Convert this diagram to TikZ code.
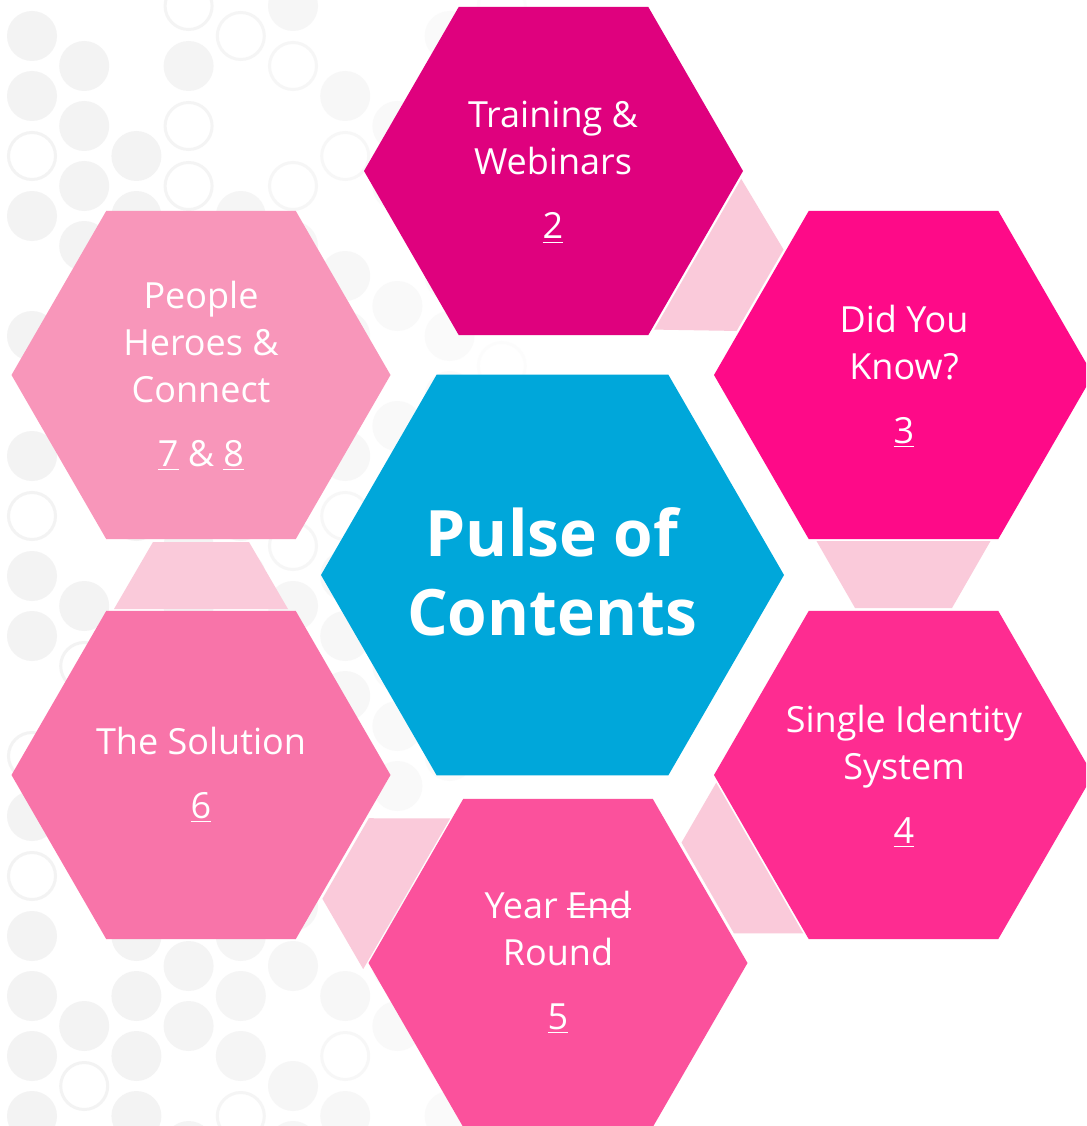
\documentclass[tikz,border=0pt]{standalone}
\usepackage{fontspec}
\setmainfont{Open Sans}[Ligatures=NoCommon]
\usetikzlibrary{shapes.geometric,calc}
\definecolor{cblue}{HTML}{00A7DA}
\definecolor{ctrain}{HTML}{DF017E}
\definecolor{cdyk}{HTML}{FE0A88}
\definecolor{csis}{HTML}{FE2C91}
\definecolor{cyer}{HTML}{FB519C}
\definecolor{csol}{HTML}{F874A9}
\definecolor{cppl}{HTML}{F896BA}
\definecolor{clink}{HTML}{FACADA}
\definecolor{bgc}{HTML}{F3F3F3}
\newcommand\uln[1]{{\setbox0\hbox{#1}\rlap{\rule[-4pt]{\wd0}{1.4pt}}\box0}}
\newcommand\strk[1]{{\setbox0\hbox{#1}\rlap{\rule[8.5pt]{\wd0}{1.4pt}}\box0}}
\newcommand\hexlabel[1]{\begin{tabular}[t]{@{}c@{}}#1\end{tabular}}
% #1 reference hex, #2 direction, #3 distance of wide side, #4 distance of narrow side, #5 narrow half width
\newcommand\hexlink[5]{\fill[link] ($(#1.center)+(#2:#3)+(#2+90:87)$) -- ($(#1.center)+(#2:#4)+(#2+90:#5)$) -- ($(#1.center)+(#2:#4)+(#2-90:#5)$) -- ($(#1.center)+(#2:#3)+(#2-90:87)$) -- cycle;}
\begin{document}
\begin{tikzpicture}[x=1pt,y=-1pt,
  hex/.style={regular polygon, regular polygon sides=6, minimum size=379pt, inner sep=0pt, outer sep=0pt, draw=none},
  lbl/.style={text=white, inner sep=0pt, anchor=base, font=\fontsize{36}{47}\selectfont},
  link/.style={fill=clink}]
\useasboundingbox (0,0) rectangle (1086,1126);
\clip (0,0) rectangle (1086,1126);
\fill[white] (0,0) rectangle (1086,1126);
% background dots
\pgfmathsetseed{11}
\foreach \k in {0,...,9}{
  \foreach \j in {0,...,19}{
    \pgfmathsetmacro\cx{32+52.2*\k}
    \pgfmathsetmacro\cy{36+60*\j-30*mod(\k,2)}
    \pgfmathsetmacro\op{max(0,1-(\cx/560)^2)}
    \pgfmathsetmacro\rr{rnd}
    \ifdim\rr pt<0.22pt\relax\else
      \ifdim\rr pt<0.38pt
        \draw[bgc, line width=3pt, opacity=\op] (\cx,\cy) circle (23.5pt);
      \else
        \fill[bgc, opacity=\op] (\cx,\cy) circle (25pt);
      \fi
    \fi
  }
}
% hexagons
\node[hex, fill=cblue, minimum size=463pt] (hub) at (552.5,575) {};
\node[hex, fill=ctrain] (train) at (553.5,171) {};
\node[hex, fill=cdyk] (dyk) at (903.5,375) {};
\node[hex, fill=csis] (sis) at (903.5,775) {};
\node[hex, fill=cyer] (yer) at (558,963) {};
\node[hex, fill=csol] (sol) at (201,775) {};
\node[hex, fill=cppl] (ppl) at (201,375) {};
% links
\hexlink{train}{30}{166.5}{238.5}{47}
\hexlink{dyk}{90}{166}{233}{48.5}
\hexlink{sis}{150}{166}{226}{52.5}
\hexlink{sol}{30}{237.5}{167}{46.5}
\hexlink{sol}{270}{166}{233}{48}
% labels
\node[lbl] (ttrain) at (553,128) {\hexlabel{Training \&\\Webinars\\[17pt]\uln{2}}};
\node[lbl] (tdyk) at (904,332) {\hexlabel{Did You\\Know?\\[17pt]\uln{3}}};
\node[lbl] (tsis) at (904,732) {\hexlabel{Single Identity\\System\\[17pt]\uln{4}}};
\node[lbl] (tyer) at (558,918) {\hexlabel{Year \strk{End}\\Round\\[17pt]\uln{5}}};
\node[lbl] (tsol) at (201,754) {\hexlabel{The Solution\\[17pt]\uln{6}}};
\node[lbl] (tppl) at (201,308) {\hexlabel{People\\Heroes \&\\Connect\\[17pt]\uln{7} \& \uln{8}}};
\node[lbl, font=\fontsize{64}{79}\selectfont\bfseries] (thub) at (552,556) {\hexlabel{Pulse of\\Contents}};
\end{tikzpicture}
\end{document}
